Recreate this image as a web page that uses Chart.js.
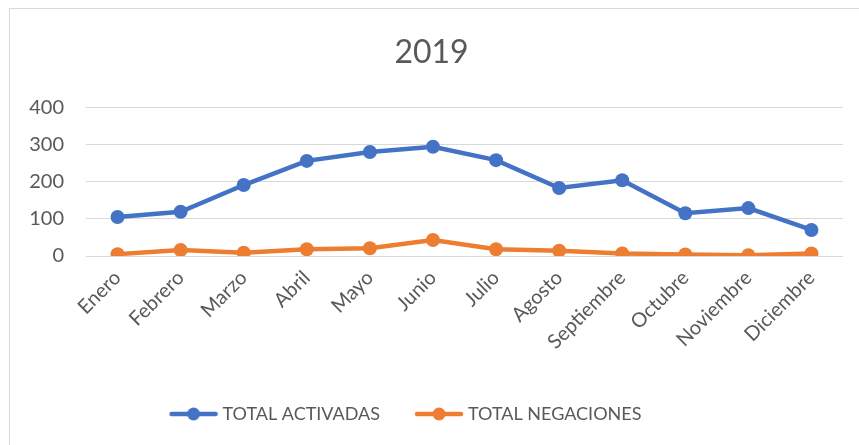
<!DOCTYPE html>
<html>
<head>
<meta charset="utf-8">
<script src="https://cdn.jsdelivr.net/npm/chart.js@4"></script>
<style>
  html, body { margin: 0; padding: 0; background: #fff; }
  #wrap { position: relative; width: 859px; height: 445px; }
  #frame { position: absolute; left: 9px; top: 8px; width: 870px; height: 460px; border: 1px solid #d9d9d9; box-sizing: border-box; }
  canvas { position: absolute; left: 0; top: 0; }
</style>
</head>
<body>
<div id="wrap">
  <div id="frame"></div>
  <canvas id="chart" width="859" height="445"></canvas>
</div>
<script>
// Data
const months = ['Enero', 'Febrero', 'Marzo', 'Abril', 'Mayo', 'Junio', 'Julio', 'Agosto', 'Septiembre', 'Octubre', 'Noviembre', 'Diciembre'];
const activadas = [105, 119, 191, 256, 280, 294, 258, 183, 204, 115, 129, 70];
const negaciones = [5, 16, 9, 18, 21, 43, 18, 14, 7, 4, 2, 7];
const seriesNames = ['TOTAL ACTIVADAS', 'TOTAL NEGACIONES'];
const seriesColors = ['#4472C4', '#ED7D31'];

const textColor = '#595959';
const fontFamily = 'Lato, "Open Sans", sans-serif';

// legend marker: line with a dot in the middle
function legendMarker(color) {
    const c = document.createElement('canvas');
    c.width = 50;
    c.height = 16;
    const g = c.getContext('2d');
    g.strokeStyle = color;
    g.lineWidth = 4.5;
    g.lineCap = 'round';
    g.beginPath();
    g.moveTo(3, 8);
    g.lineTo(47, 8);
    g.stroke();
    g.fillStyle = color;
    g.beginPath();
    g.arc(25, 8, 6.5, 0, Math.PI * 2);
    g.fill();
    return c;
}
const markers = seriesColors.map(legendMarker);

// nudge the legend a bit to the left, like the original
const legendShift = {
    id: 'legendShift',
    afterLayout(chart) {
        chart.legend.left -= 24;
        chart.legend.right -= 24;
    }
};

const ctx = document.getElementById('chart').getContext('2d');
new Chart(ctx, {
    type: 'line',
    data: {
        labels: months,
        datasets: [activadas, negaciones].map((values, i) => ({
            label: seriesNames[i],
            data: values,
            borderColor: seriesColors[i],
            backgroundColor: seriesColors[i],
            borderWidth: 4.5,
            pointRadius: 7,
            pointHoverRadius: 7,
            pointBorderWidth: 0,
            tension: 0
        }))
    },
    plugins: [legendShift],
    options: {
        responsive: false,
        animation: false,
        layout: { padding: { left: 20, right: 16, top: 33, bottom: 12 } },
        plugins: {
            title: {
                display: true,
                text: '2019',
                color: textColor,
                font: { family: fontFamily, size: 32, weight: 'normal' },
                padding: { top: 0, bottom: 36 }
            },
            legend: {
                position: 'bottom',
                labels: {
                    color: textColor,
                    font: { family: fontFamily, size: 18 },
                    usePointStyle: true,
                    pointStyleWidth: 40,
                    boxHeight: 16,
                    padding: 39,
                    generateLabels: (chart) => chart.data.datasets.map((ds, i) => ({
                        text: ds.label,
                        fontColor: textColor,
                        pointStyle: markers[i],
                        datasetIndex: i,
                        lineWidth: 0,
                        strokeStyle: 'transparent',
                        fillStyle: 'transparent'
                    }))
                }
            },
            tooltip: { enabled: false }
        },
        scales: {
            x: {
                offset: true,
                grid: { display: false },
                border: { display: false },
                afterFit: (scale) => { scale.height = 110; },
                ticks: {
                    color: textColor,
                    font: { family: fontFamily, size: 20 },
                    minRotation: 45,
                    maxRotation: 45,
                    autoSkip: false,
                    padding: 2
                }
            },
            y: {
                min: 0,
                max: 400,
                border: { display: false },
                afterFit: (scale) => { scale.width = 66; },
                grid: { color: '#d9d9d9', lineWidth: 1, drawTicks: false },
                ticks: {
                    stepSize: 100,
                    color: textColor,
                    font: { family: fontFamily, size: 20 },
                    padding: 22
                }
            }
        }
    }
});
</script>
</body>
</html>
